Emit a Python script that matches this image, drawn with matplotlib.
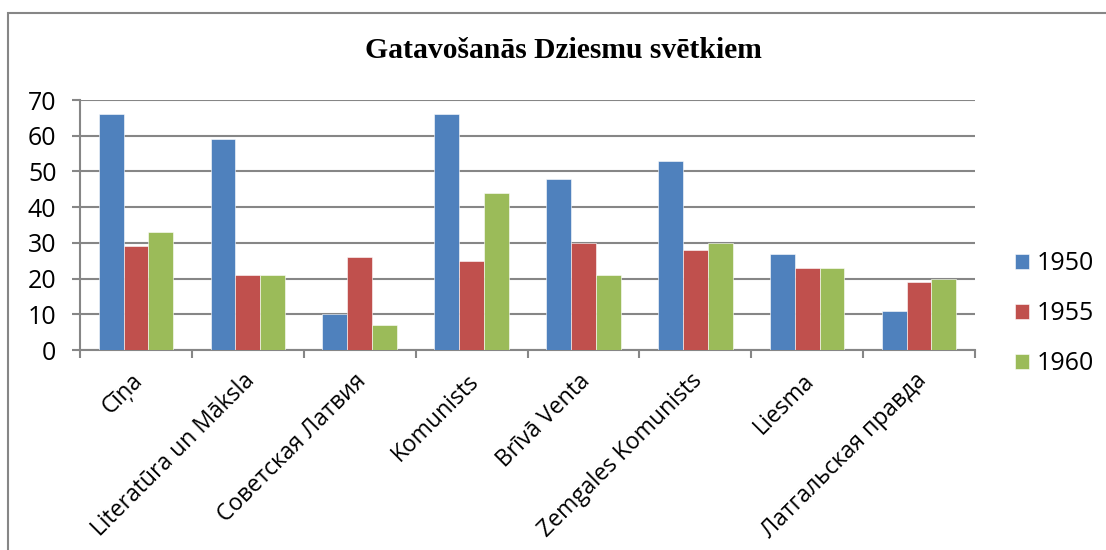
import matplotlib.pyplot as plt
import matplotlib.transforms as mtransforms
from matplotlib.patches import Rectangle
import numpy as np

# data
categories = ['Cīņa', 'Literatūra un Māksla', 'Советская Латвия', 'Komunists',
              'Brīvā Venta', 'Zemgales Komunists', 'Liesma', 'Латгальская правда']
years = ['1950', '1955', '1960']
v1950 = [66, 59, 10, 66, 48, 53, 27, 11]
v1955 = [29, 21, 26, 25, 30, 28, 23, 19]
v1960 = [33, 21, 7, 44, 21, 30, 23, 20]
yticks = [0, 10, 20, 30, 40, 50, 60, 70]

colors = ['#4F81BD', '#C0504D', '#9BBB59']
grid_c = '#868686'
W, H = 1106, 550

plt.rcParams['font.family'] = ['Open Sans', 'DejaVu Sans']

fig = plt.figure(figsize=(W / 100, H / 100), dpi=100)
fig.patch.set_facecolor('white')

# outer chart frame (cropped at right/bottom)
fig.add_artist(Rectangle((8 / W, -0.05), 1.2, (H - 13) / H + 0.05,
                         transform=fig.transFigure, fill=False,
                         edgecolor=grid_c, linewidth=1.5))

ax = fig.add_axes([80 / W, 1 - 350 / H, 895 / W, 250 / H])

x = np.arange(len(categories))
bw = 1 / 4.5
for i, (vals, c, lab) in enumerate(zip([v1950, v1955, v1960], colors, years)):
    ax.bar(x + (i - 1) * bw, vals, width=bw, color=c, label=lab,
           edgecolor='white', linewidth=0.4, zorder=3)

ax.set_xlim(-0.5, len(categories) - 0.5)
ax.set_ylim(0, 70)
ax.set_yticks(yticks)
ax.tick_params(axis='y', labelsize=18, length=6, width=1.5, color=grid_c, pad=11)
ax.yaxis.grid(True, color=grid_c, linewidth=1.5, zorder=0)

ax.set_xticks(np.arange(len(categories) + 1) - 0.5)
ax.set_xticklabels([])
ax.tick_params(axis='x', length=5.5, width=1.5, color=grid_c)

for s in ['top', 'right']:
    ax.spines[s].set_visible(False)
for s in ['left', 'bottom']:
    ax.spines[s].set_color(grid_c)
    ax.spines[s].set_linewidth(1.5)

offset = mtransforms.ScaledTranslation(-5 / 100, -19 / 100, fig.dpi_scale_trans)
for xi, name in zip(x, categories):
    ax.text(xi, 0, name, rotation=45, ha='right', va='top',
            rotation_mode='anchor', fontsize=16.5,
            transform=ax.get_xaxis_transform() + offset)

fig.text(563 / W, 1 - 50 / H, 'Gatavošanās Dziesmu svētkiem',
         family='Liberation Serif', fontweight='bold', fontsize=21.3,
         ha='center', va='center')

ax.legend(loc='center left', bbox_to_anchor=((1015 - 80) / 895, (350 - 314) / 250),
          frameon=False, fontsize=18, handlelength=0.56, handleheight=0.56,
          labelspacing=1.0, handletextpad=0.3, borderpad=0, borderaxespad=0)

fig.savefig('out.png', dpi=100)
